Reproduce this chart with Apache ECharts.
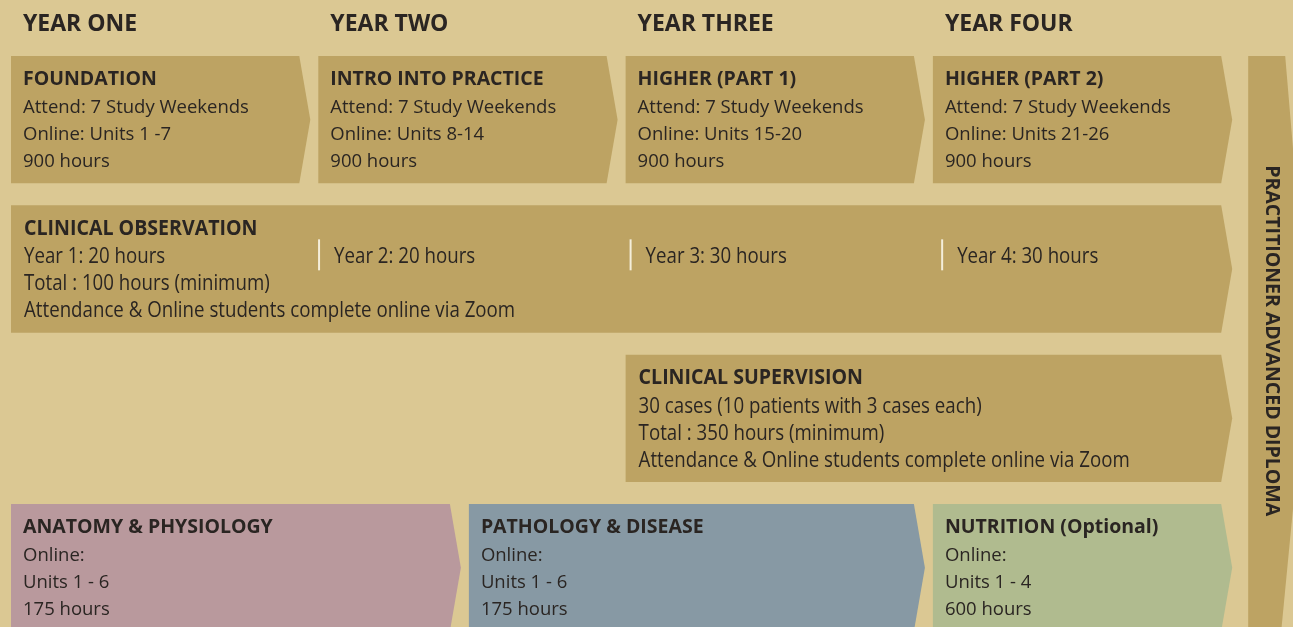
<!DOCTYPE html>
<html>
<head>
<meta charset="utf-8">
<script src="https://cdn.jsdelivr.net/npm/echarts@6/dist/echarts.min.js"></script>
<style>
html,body{margin:0;padding:0;background:#dbc893;}
#c{width:1293px;height:627px;}
</style>
</head>
<body>
<div id="c"></div>
<script>
// ---------- data ----------
const yearLabels = ['YEAR ONE', 'YEAR TWO', 'YEAR THREE', 'YEAR FOUR'];

const stageNames = ['FOUNDATION', 'INTRO INTO PRACTICE', 'HIGHER (PART 1)', 'HIGHER (PART 2)'];
const stageStart = [0, 1, 2, 3];
const stageEnd = [1, 2, 3, 4];
const stageWeekends = [7, 7, 7, 7];
const stageUnits = ['1 -7', '8-14', '15-20', '21-26'];
const stageHours = [900, 900, 900, 900];

const observationName = 'CLINICAL OBSERVATION';
const observationStart = 0;
const observationEnd = 4;
const observationYearHours = [20, 20, 30, 30];
const observationTotal = 100;

const supervisionName = 'CLINICAL SUPERVISION';
const supervisionStart = 2;
const supervisionEnd = 4;
const supervisionCases = 30;
const supervisionPatients = 10;
const supervisionCasesEach = 3;
const supervisionTotal = 350;

const moduleNames = ['ANATOMY & PHYSIOLOGY', 'PATHOLOGY & DISEASE', 'NUTRITION (Optional)'];
const moduleStart = [0, 1.49, 3];
const moduleEnd = [1.49, 3, 4];
const moduleUnits = ['1 - 6', '1 - 6', '1 - 4'];
const moduleHours = [175, 175, 600];

const awardName = 'PRACTITIONER ADVANCED DIPLOMA';
const awardRows = [0, 4];

// ---------- styles ----------
const FONT = '"Open Sans", "Noto Sans", sans-serif';
const TEXT = '#2a2522';
const GOLD = '#bda363';
const moduleColors = ['#b9999d', '#8799a4', '#b0bb8f'];
const GRID_TOP = 56, GRID_H = 571, ROW_PITCH = 149.33;
const NARROW_SCALE = 0.89;

// ---------- build items ----------
const items = [];
stageNames.forEach((n, i) => {
  items.push({
    value: [stageStart[i], stageEnd[i], 0],
    fill: GOLD, narrow: false, title: n,
    lines: ['Attend: ' + stageWeekends[i] + ' Study Weekends', 'Online: Units ' + stageUnits[i], stageHours[i] + ' hours']
  });
});
items.push({
  value: [observationStart, observationEnd, 1],
  fill: GOLD, narrow: true, title: observationName,
  yearParts: observationYearHours.map((h, i) => 'Year ' + (i + 1) + ': ' + h + ' hours'),
  lines: ['', 'Total : ' + observationTotal + ' hours (minimum)', 'Attendance & Online students complete online via Zoom']
});
items.push({
  value: [supervisionStart, supervisionEnd, 2],
  fill: GOLD, narrow: true, title: supervisionName,
  lines: [supervisionCases + ' cases (' + supervisionPatients + ' patients with ' + supervisionCasesEach + ' cases each)',
          'Total : ' + supervisionTotal + ' hours (minimum)',
          'Attendance & Online students complete online via Zoom']
});
moduleNames.forEach((n, i) => {
  items.push({
    value: [moduleStart[i], moduleEnd[i], 3],
    fill: moduleColors[i], narrow: false, title: n,
    lines: ['Online:', 'Units ' + moduleUnits[i], moduleHours[i] + ' hours']
  });
});
items.push({ value: [4, 4, awardRows[0], awardRows[1]], award: true, title: awardName, fill: GOLD });

function txt(x, y, text, font, narrow) {
  const el = { type: 'text', x: x, y: y, style: { text: text, font: font, fill: TEXT, align: 'left', verticalAlign: 'middle' } };
  if (narrow) el.scaleX = NARROW_SCALE;
  return el;
}

function renderItem(params, api) {
  const it = items[params.dataIndex];
  if (it.award) {
    const a = api.coord([it.value[0], it.value[2]]);
    const b = api.coord([it.value[1], it.value[3]]);
    const x0 = a[0] + 8, x1 = x0 + 37, y0 = a[1], y1 = b[1] - 22, ym = (y0 + y1) / 2 - 3;
    return {
      type: 'group',
      children: [
        { type: 'polygon', shape: { points: [[x0, y0], [x1, y0], [x1 + 24, ym], [x1 - 4, y1], [x0, y1]] }, style: { fill: it.fill } },
        { type: 'text', x: x0 + 23, y: ym, rotation: -Math.PI / 2,
          style: { text: it.title, font: 'bold 19.5px ' + FONT, fill: TEXT, align: 'center', verticalAlign: 'middle' } }
      ]
    };
  }
  const p0 = api.coord([it.value[0], it.value[2]]);
  const p1 = api.coord([it.value[1], it.value[2] + 1]);
  const x0 = p0[0], y0 = p0[1], x1 = p1[0] - 19, y1 = p1[1] - 22, ym = (y0 + y1) / 2;
  const children = [
    { type: 'polygon', shape: { points: [[x0, y0], [x1, y0], [x1 + 11, ym], [x1, y1], [x0, y1]] }, style: { fill: it.fill } }
  ];
  const tx = x0 + (it.narrow ? 13 : 12);
  const titleFont = it.narrow ? 'bold 22px ' + FONT : 'bold 19.5px ' + FONT;
  const bodyFont = it.narrow ? '21px ' + FONT : '18.5px ' + FONT;
  children.push(txt(tx, y0 + 23, it.title, titleFont, it.narrow));
  it.lines.forEach((l, i) => {
    if (!l) return;
    children.push(txt(tx, y0 + 52 + 27 * i, l, bodyFont, it.narrow));
  });
  if (it.yearParts) {
    const partPitch = (x1 - x0 + 36) / it.yearParts.length;
    it.yearParts.forEach((t, k) => {
      const sx = x0 + k * partPitch - 3.5;
      const lx = k === 0 ? tx : sx + 15;
      if (k > 0) {
        children.push({ type: 'line', shape: { x1: sx, y1: y0 + 34, x2: sx, y2: y0 + 65 }, style: { stroke: '#f4eedb', lineWidth: 2 } });
      }
      children.push(txt(lx, y0 + 52, t, bodyFont, true));
    });
  }
  return { type: 'group', children };
}

const chart = echarts.init(document.getElementById('c'));
chart.setOption({
  backgroundColor: '#dbc893',
  animation: false,
  grid: { left: 11, top: GRID_TOP, width: 1229.2, height: GRID_H },
  xAxis: {
    type: 'value', min: 0, max: 4, interval: 1, position: 'top',
    axisLine: { show: false }, axisTick: { show: false }, splitLine: { show: false },
    axisLabel: {
      showMaxLabel: false, align: 'left', verticalAlign: 'middle', margin: 32,
      padding: [0, 0, 0, 12],
      formatter: v => yearLabels[v] || '',
      fontFamily: 'Open Sans', fontWeight: 'bold', fontSize: 23, color: TEXT
    }
  },
  yAxis: { type: 'value', min: 0, max: GRID_H / ROW_PITCH, inverse: true, show: false },
  series: [{
    type: 'custom', renderItem, clip: false,
    data: items.map(it => ({ value: it.value })),
    encode: { x: [0, 1], y: 2 }
  }]
});
</script>
</body>
</html>
